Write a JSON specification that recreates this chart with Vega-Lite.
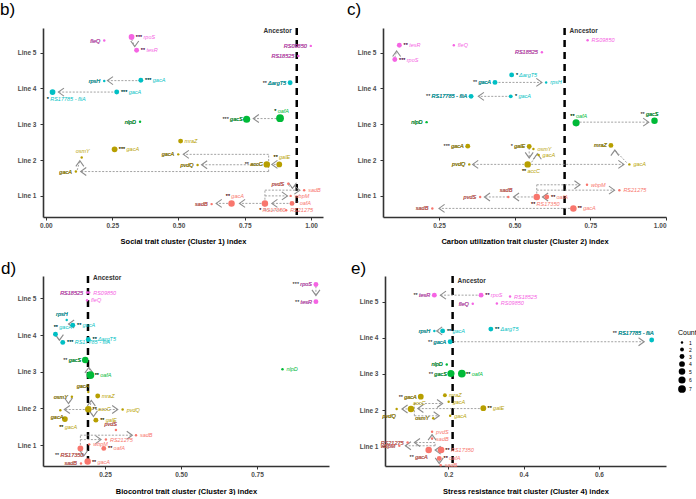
{
"$schema":"https://vega.github.io/schema/vega-lite/v6.json",
"background":"white",
"padding":{"left":0,"top":0,"right":0,"bottom":0},
"spacing":14,
"resolve":{"legend":{"size":"independent"}},
"config":{"font":"Liberation Sans","view":{"stroke":null},
"axis":{"grid":false,"domainColor":"#333333","domainWidth":1.6,"tickColor":"#333333","tickSize":3,"labelFontSize":6.5,"labelFontWeight":"bold","labelColor":"#4d4d4d","titleFontSize":7.5,"titleFontWeight":"bold","titleColor":"black","labelPadding":2},
"axisY":{"labelPadding":4},"axisX":{"titlePadding":9},
"title":{"fontSize":17,"fontWeight":"normal","anchor":"start","frame":"group","offset":8,"color":"black"},
"text":{"fontSize":5.5,"fontStyle":"italic","baseline":"middle"}},
"datasets":{
"anc":[{"p":"b","x":0.946,"y":5.62,"t":"Ancestor"},{"p":"c","x":0.665,"y":5.62,"t":"Ancestor"},{"p":"d","x":0.194,"y":5.55,"t":"Ancestor"},{"p":"e","x":0.2115,"y":5.58,"t":"Ancestor"}],
"arr":[
{"p":"b","x":0.323,"y":5.38,"x2":0.335,"y2":5.17,"dir":"down"},
{"p":"b","x":0.358,"y":4.22,"x2":0.232,"y2":4.22,"dir":"left"},
{"p":"b","x":0.267,"y":3.9,"x2":0.047,"y2":3.9,"dir":"left"},
{"p":"b","x":0.883,"y":3.16,"x2":0.782,"y2":3.16,"dir":"left"},
{"p":"b","x":0.88,"y":1.88,"x2":0.852,"y2":1.88,"dir":"left"},
{"p":"b","x":0.833,"y":1.87,"x2":0.587,"y2":1.87,"dir":"left"},
{"p":"b","x":0.84,"y":2.16,"x2":0.518,"y2":2.16,"dir":"left"},
{"p":"b","x":0.84,"y":1.68,"x2":0.131,"y2":1.68,"dir":"left"},
{"p":"b","x":0.84,"y":1.68,"x2":0.84,"y2":2.16,"dir":"none"},
{"p":"b","x":0.118,"y":1.72,"x2":0.128,"y2":1.98,"dir":"up"},
{"p":"b","x":0.928,"y":0.79,"x2":0.852,"y2":0.79,"dir":"left"},
{"p":"b","x":0.826,"y":0.79,"x2":0.73,"y2":0.79,"dir":"left"},
{"p":"b","x":0.7,"y":0.79,"x2":0.642,"y2":0.79,"dir":"left"},
{"p":"b","x":0.826,"y":1.16,"x2":0.958,"y2":1.16,"dir":"right"},
{"p":"b","x":0.826,"y":1.0,"x2":0.911,"y2":1.0,"dir":"right"},
{"p":"b","x":0.826,"y":0.6,"x2":0.895,"y2":0.6,"dir":"none"},
{"p":"b","x":0.826,"y":0.6,"x2":0.826,"y2":1.16,"dir":"none"},
{"p":"b","x":0.914,"y":1.3,"x2":0.93,"y2":1.21,"dir":"down"},
{"p":"c","x":0.104,"y":4.86,"x2":0.11,"y2":5.05,"dir":"up"},
{"p":"c","x":0.435,"y":4.17,"x2":0.59,"y2":4.17,"dir":"right"},
{"p":"c","x":0.487,"y":3.78,"x2":0.38,"y2":3.78,"dir":"left"},
{"p":"c","x":0.703,"y":3.06,"x2":0.943,"y2":3.06,"dir":"right"},
{"p":"c","x":0.543,"y":1.88,"x2":0.361,"y2":1.88,"dir":"left"},
{"p":"c","x":0.543,"y":1.88,"x2":0.861,"y2":1.88,"dir":"right"},
{"p":"c","x":0.87,"y":1.93,"x2":0.831,"y2":2.28,"dir":"up"},
{"p":"c","x":0.548,"y":2.34,"x2":0.548,"y2":2.06,"dir":"down"},
{"p":"c","x":0.556,"y":1.94,"x2":0.575,"y2":2.18,"dir":"up"},
{"p":"c","x":0.573,"y":1.31,"x2":0.716,"y2":1.31,"dir":"right"},
{"p":"c","x":0.573,"y":1.16,"x2":0.83,"y2":1.16,"dir":"right"},
{"p":"c","x":0.573,"y":0.97,"x2":0.573,"y2":1.31,"dir":"none"},
{"p":"c","x":0.606,"y":0.97,"x2":0.592,"y2":0.97,"dir":"left"},
{"p":"c","x":0.573,"y":0.97,"x2":0.496,"y2":0.97,"dir":"left"},
{"p":"c","x":0.479,"y":0.97,"x2":0.4,"y2":0.97,"dir":"left"},
{"p":"c","x":0.694,"y":0.65,"x2":0.25,"y2":0.65,"dir":"left"},
{"p":"d","x":0.944,"y":5.33,"x2":0.944,"y2":5.08,"dir":"down"},
{"p":"d","x":0.144,"y":4.27,"x2":0.13,"y2":4.3,"dir":"left"},
{"p":"d","x":0.087,"y":3.98,"x2":0.1,"y2":3.86,"dir":"down"},
{"p":"d","x":0.202,"y":2.95,"x2":0.197,"y2":3.12,"dir":"up"},
{"p":"d","x":0.195,"y":1.97,"x2":0.116,"y2":1.97,"dir":"left"},
{"p":"d","x":0.195,"y":1.97,"x2":0.292,"y2":1.97,"dir":"right"},
{"p":"d","x":0.2,"y":2.0,"x2":0.205,"y2":2.22,"dir":"up"},
{"p":"d","x":0.2,"y":1.95,"x2":0.212,"y2":1.78,"dir":"down"},
{"p":"d","x":0.141,"y":2.3,"x2":0.13,"y2":2.13,"dir":"down"},
{"p":"d","x":0.169,"y":1.15,"x2":0.237,"y2":1.15,"dir":"right"},
{"p":"d","x":0.169,"y":1.27,"x2":0.34,"y2":1.27,"dir":"right"},
{"p":"d","x":0.169,"y":0.91,"x2":0.169,"y2":1.27,"dir":"none"},
{"p":"d","x":0.172,"y":0.87,"x2":0.18,"y2":0.7,"dir":"down"},
{"p":"e","x":0.287,"y":5.18,"x2":0.179,"y2":5.18,"dir":"left"},
{"p":"e","x":0.185,"y":4.19,"x2":0.169,"y2":4.19,"dir":"left"},
{"p":"e","x":0.205,"y":3.89,"x2":0.72,"y2":3.89,"dir":"right"},
{"p":"e","x":0.293,"y":2.04,"x2":0.119,"y2":2.04,"dir":"left"},
{"p":"e","x":0.101,"y":2.03,"x2":0.077,"y2":2.03,"dir":"left"},
{"p":"e","x":0.11,"y":2.18,"x2":0.185,"y2":2.18,"dir":"right"},
{"p":"e","x":0.11,"y":1.84,"x2":0.176,"y2":1.84,"dir":"right"},
{"p":"e","x":0.11,"y":1.84,"x2":0.11,"y2":2.18,"dir":"none"},
{"p":"e","x":0.181,"y":0.89,"x2":0.165,"y2":0.89,"dir":"left"},
{"p":"e","x":0.165,"y":1.1,"x2":0.11,"y2":1.1,"dir":"left"},
{"p":"e","x":0.165,"y":1.01,"x2":0.086,"y2":1.01,"dir":"left"},
{"p":"e","x":0.165,"y":1.01,"x2":0.165,"y2":1.1,"dir":"none"},
{"p":"e","x":0.157,"y":1.17,"x2":0.157,"y2":1.32,"dir":"up"},
{"p":"e","x":0.176,"y":0.62,"x2":0.176,"y2":0.52,"dir":"down"}
],
"pts":[
{"p":"b","l":5,"g":"fleQ","s":"","lab":"fleQ","x":0.22,"y":5.34,"n":1,"sd":"l"},
{"p":"b","l":5,"g":"rpoS","s":"***","lab":"*** rpoS","x":0.323,"y":5.44,"n":4,"sd":"r"},
{"p":"b","l":5,"g":"tesR","s":"**","lab":"** tesR","x":0.342,"y":5.07,"n":3,"sd":"r"},
{"p":"b","l":5,"g":"RS09850","s":"","lab":"RS09850","x":0.999,"y":5.19,"n":1,"sd":"l"},
{"p":"b","l":5,"g":"RS18525","s":"","lab":"RS18525","x":0.952,"y":4.91,"n":1,"sd":"l"},
{"p":"b","l":4,"g":"rpsH","s":"","lab":"rpsH","x":0.22,"y":4.21,"n":1,"sd":"l"},
{"p":"b","l":4,"g":"gacA","s":"***","lab":"*** gacA","x":0.358,"y":4.23,"n":3,"sd":"r"},
{"p":"b","l":4,"g":"ΔargT5","s":"**","lab":"** ΔargT5","x":0.921,"y":4.16,"n":3,"sd":"l"},
{"p":"b","l":4,"g":"RS17785 - fliA","s":"*","lab":"* RS17785 - fliA","x":0.025,"y":3.9,"n":4,"sd":"b"},
{"p":"b","l":4,"g":"gacA","s":"***","lab":"*** gacA","x":0.267,"y":3.9,"n":3,"sd":"r"},
{"p":"b","l":3,"g":"nlpD","s":"","lab":"nlpD","x":0.355,"y":3.07,"n":1,"sd":"l"},
{"p":"b","l":3,"g":"gacS","s":"***","lab":"*** gacS","x":0.757,"y":3.14,"n":6,"sd":"l"},
{"p":"b","l":3,"g":"oafA","s":"*","lab":"* oafA","x":0.883,"y":3.17,"n":7,"sd":"a"},
{"p":"b","l":2,"g":"mraZ","s":"","lab":"mraZ","x":0.508,"y":2.53,"n":3,"sd":"r"},
{"p":"b","l":2,"g":"gacA","s":"***","lab":"*** gacA","x":0.259,"y":2.3,"n":4,"sd":"r"},
{"p":"b","l":2,"g":"gacA","s":"","lab":"gacA","x":0.499,"y":2.16,"n":1,"sd":"l"},
{"p":"b","l":2,"g":"galE","s":"**","lab":"** galE","x":0.88,"y":1.88,"n":4,"sd":"a"},
{"p":"b","l":2,"g":"accC","s":"**","lab":"** accC","x":0.833,"y":1.88,"n":5,"sd":"l"},
{"p":"b","l":2,"g":"pvdQ","s":"","lab":"pvdQ","x":0.572,"y":1.86,"n":1,"sd":"l"},
{"p":"b","l":2,"g":"osmY","s":"","lab":"osmY","x":0.135,"y":2.07,"n":1,"sd":"a"},
{"p":"b","l":2,"g":"gacA","s":"","lab":"gacA","x":0.113,"y":1.68,"n":1,"sd":"l"},
{"p":"b","l":1,"g":"pvdS","s":"","lab":"pvdS","x":0.914,"y":1.34,"n":1,"sd":"l"},
{"p":"b","l":1,"g":"sadB","s":"","lab":"sadB","x":0.974,"y":1.16,"n":1,"sd":"r"},
{"p":"b","l":1,"g":"wbpM","s":"","lab":"wbpM","x":0.923,"y":1.0,"n":1,"sd":"r"},
{"p":"b","l":1,"g":"oafA","s":"*","lab":"* oafA","x":0.928,"y":0.79,"n":3,"sd":"r"},
{"p":"b","l":1,"g":"RS17350","s":"*","lab":"* RS17350","x":0.826,"y":0.79,"n":5,"sd":"b"},
{"p":"b","l":1,"g":"RS21275","s":"","lab":"RS21275","x":0.906,"y":0.6,"n":1,"sd":"r"},
{"p":"b","l":1,"g":"gacA","s":"**","lab":"** gacA","x":0.7,"y":0.79,"n":5,"sd":"a"},
{"p":"b","l":1,"g":"sadB","s":"","lab":"sadB","x":0.625,"y":0.77,"n":1,"sd":"l"},
{"p":"c","l":5,"g":"tesR","s":"**","lab":"** tesR","x":0.119,"y":5.21,"n":3,"sd":"r"},
{"p":"c","l":5,"g":"rpoS","s":"***","lab":"*** rpoS","x":0.104,"y":4.81,"n":3,"sd":"r"},
{"p":"c","l":5,"g":"fleQ","s":"","lab":"fleQ","x":0.299,"y":5.21,"n":1,"sd":"r"},
{"p":"c","l":5,"g":"RS18525","s":"","lab":"RS18525","x":0.59,"y":5.01,"n":1,"sd":"l"},
{"p":"c","l":5,"g":"RS09850","s":"","lab":"RS09850","x":0.741,"y":5.35,"n":1,"sd":"r"},
{"p":"c","l":4,"g":"ΔargT5","s":"*","lab":"* ΔargT5","x":0.49,"y":4.38,"n":3,"sd":"r"},
{"p":"c","l":4,"g":"gacA","s":"**","lab":"** gacA","x":0.435,"y":4.17,"n":3,"sd":"l"},
{"p":"c","l":4,"g":"rpsH","s":"","lab":"rpsH","x":0.604,"y":4.17,"n":1,"sd":"r"},
{"p":"c","l":4,"g":"RS17785 - fliA","s":"**","lab":"** RS17785 - fliA","x":0.356,"y":3.78,"n":3,"sd":"l"},
{"p":"c","l":4,"g":"gacA","s":"*","lab":"* gacA","x":0.487,"y":3.78,"n":2,"sd":"r"},
{"p":"c","l":3,"g":"nlpD","s":"","lab":"nlpD","x":0.209,"y":3.06,"n":1,"sd":"l"},
{"p":"c","l":3,"g":"oafA","s":"**","lab":"** oafA","x":0.703,"y":3.04,"n":6,"sd":"a"},
{"p":"c","l":3,"g":"gacS","s":"**","lab":"** gacS","x":0.962,"y":3.1,"n":5,"sd":"al"},
{"p":"c","l":2,"g":"gacA","s":"***","lab":"*** gacA","x":0.345,"y":2.39,"n":3,"sd":"l"},
{"p":"c","l":2,"g":"galE","s":"*","lab":"* galE","x":0.548,"y":2.38,"n":3,"sd":"l"},
{"p":"c","l":2,"g":"osmY","s":"","lab":"osmY","x":0.562,"y":2.31,"n":1,"sd":"r"},
{"p":"c","l":2,"g":"gacA","s":"","lab":"gacA","x":0.579,"y":2.14,"n":1,"sd":"r"},
{"p":"c","l":2,"g":"accC","s":"**","lab":"** accC","x":0.543,"y":1.88,"n":5,"sd":"b"},
{"p":"c","l":2,"g":"pvdQ","s":"","lab":"pvdQ","x":0.35,"y":1.88,"n":1,"sd":"l"},
{"p":"c","l":2,"g":"gacA","s":"","lab":"gacA","x":0.879,"y":1.88,"n":1,"sd":"r"},
{"p":"c","l":2,"g":"mraZ","s":"","lab":"mraZ","x":0.818,"y":2.41,"n":3,"sd":"l"},
{"p":"c","l":1,"g":"wbpM","s":"","lab":"wbpM","x":0.739,"y":1.31,"n":1,"sd":"r"},
{"p":"c","l":1,"g":"RS21275","s":"","lab":"RS21275","x":0.846,"y":1.16,"n":1,"sd":"r"},
{"p":"c","l":1,"g":"oafA","s":"**","lab":"** oafA","x":0.606,"y":0.97,"n":3,"sd":"r"},
{"p":"c","l":1,"g":"RS17350","s":"**","lab":"** RS17350","x":0.573,"y":0.97,"n":5,"sd":"b"},
{"p":"c","l":1,"g":"sadB","s":"","lab":"sadB","x":0.479,"y":0.97,"n":1,"sd":"al"},
{"p":"c","l":1,"g":"pvdS","s":"","lab":"pvdS","x":0.386,"y":0.97,"n":1,"sd":"l"},
{"p":"c","l":1,"g":"gacA","s":"**","lab":"** gacA","x":0.694,"y":0.65,"n":5,"sd":"r"},
{"p":"c","l":1,"g":"sadB","s":"","lab":"sadB","x":0.228,"y":0.65,"n":1,"sd":"l"},
{"p":"d","l":5,"g":"rpoS","s":"***","lab":"*** rpoS","x":0.944,"y":5.38,"n":3,"sd":"l"},
{"p":"d","l":5,"g":"tesR","s":"**","lab":"** tesR","x":0.944,"y":4.91,"n":3,"sd":"l"},
{"p":"d","l":5,"g":"RS18525","s":"","lab":"RS18525","x":0.191,"y":5.16,"n":1,"sd":"l"},
{"p":"d","l":5,"g":"RS09850","s":"","lab":"RS09850","x":0.198,"y":5.16,"n":1,"sd":"r"},
{"p":"d","l":5,"g":"fleQ","s":"","lab":"fleQ","x":0.191,"y":4.95,"n":1,"sd":"r"},
{"p":"d","l":4,"g":"rpsH","s":"","lab":"rpsH","x":0.124,"y":4.41,"n":1,"sd":"al"},
{"p":"d","l":4,"g":"gacA","s":"**","lab":"** gacA","x":0.144,"y":4.27,"n":3,"sd":"r"},
{"p":"d","l":4,"g":"gacA","s":"**","lab":"** gacA","x":0.087,"y":4.02,"n":3,"sd":"a"},
{"p":"d","l":4,"g":"RS17785 - fliA","s":"***","lab":"*** RS17785 - fliA","x":0.111,"y":3.8,"n":3,"sd":"r"},
{"p":"d","l":4,"g":"ΔargT5","s":"**","lab":"** ΔargT5","x":0.195,"y":3.88,"n":3,"sd":"r"},
{"p":"d","l":3,"g":"gacS","s":"**","lab":"** gacS","x":0.185,"y":3.32,"n":5,"sd":"l"},
{"p":"d","l":3,"g":"oafA","s":"**","lab":"** oafA","x":0.202,"y":2.91,"n":7,"sd":"r"},
{"p":"d","l":3,"g":"nlpD","s":"","lab":"nlpD","x":0.834,"y":3.07,"n":1,"sd":"r"},
{"p":"d","l":2,"g":"gacA","s":"","lab":"gacA","x":0.195,"y":2.45,"n":1,"sd":"al"},
{"p":"d","l":2,"g":"mraZ","s":"","lab":"mraZ","x":0.226,"y":2.34,"n":3,"sd":"r"},
{"p":"d","l":2,"g":"osmY","s":"","lab":"osmY","x":0.141,"y":2.32,"n":1,"sd":"l"},
{"p":"d","l":2,"g":"accC","s":"**","lab":"** accC","x":0.195,"y":1.98,"n":5,"sd":"r"},
{"p":"d","l":2,"g":"gacA","s":"","lab":"gacA","x":0.103,"y":1.95,"n":1,"sd":"bl"},
{"p":"d","l":2,"g":"pvdQ","s":"","lab":"pvdQ","x":0.308,"y":1.97,"n":1,"sd":"r"},
{"p":"d","l":2,"g":"galE","s":"**","lab":"** galE","x":0.22,"y":1.68,"n":3,"sd":"r"},
{"p":"d","l":2,"g":"gacA","s":"**","lab":"** gacA","x":0.118,"y":1.71,"n":4,"sd":"b"},
{"p":"d","l":1,"g":"pvdS","s":"","lab":"pvdS","x":0.286,"y":1.41,"n":1,"sd":"al"},
{"p":"d","l":1,"g":"sadB","s":"","lab":"sadB","x":0.352,"y":1.27,"n":1,"sd":"r"},
{"p":"d","l":1,"g":"RS21275","s":"","lab":"RS21275","x":0.253,"y":1.15,"n":1,"sd":"r"},
{"p":"d","l":1,"g":"wbpM","s":"","lab":"wbpM","x":0.198,"y":1.02,"n":1,"sd":"r"},
{"p":"d","l":1,"g":"oafA","s":"**","lab":"** oafA","x":0.246,"y":0.91,"n":3,"sd":"r"},
{"p":"d","l":1,"g":"RS17350","s":"**","lab":"** RS17350","x":0.169,"y":0.91,"n":4,"sd":"bl"},
{"p":"d","l":1,"g":"gacA","s":"**","lab":"** gacA","x":0.193,"y":0.55,"n":5,"sd":"r"},
{"p":"d","l":1,"g":"sadB","s":"","lab":"sadB","x":0.171,"y":0.5,"n":1,"sd":"l"},
{"p":"e","l":5,"g":"tesR","s":"**","lab":"** tesR","x":0.163,"y":5.18,"n":3,"sd":"l"},
{"p":"e","l":5,"g":"rpoS","s":"**","lab":"** rpoS","x":0.287,"y":5.18,"n":3,"sd":"r"},
{"p":"e","l":5,"g":"RS18525","s":"","lab":"RS18525","x":0.364,"y":5.14,"n":1,"sd":"r"},
{"p":"e","l":5,"g":"fleQ","s":"","lab":"fleQ","x":0.265,"y":4.94,"n":1,"sd":"l"},
{"p":"e","l":5,"g":"RS09850","s":"","lab":"RS09850","x":0.329,"y":4.95,"n":1,"sd":"r"},
{"p":"e","l":4,"g":"rpsH","s":"","lab":"rpsH","x":0.163,"y":4.19,"n":1,"sd":"l"},
{"p":"e","l":4,"g":"gacA","s":"**","lab":"** gacA","x":0.185,"y":4.19,"n":3,"sd":"r"},
{"p":"e","l":4,"g":"ΔargT5","s":"**","lab":"** ΔargT5","x":0.313,"y":4.24,"n":3,"sd":"r"},
{"p":"e","l":4,"g":"gacA","s":"**","lab":"** gacA","x":0.205,"y":3.89,"n":3,"sd":"l"},
{"p":"e","l":4,"g":"RS17785 - fliA","s":"**","lab":"** RS17785 - fliA","x":0.74,"y":3.94,"n":3,"sd":"al"},
{"p":"e","l":3,"g":"nlpD","s":"","lab":"nlpD","x":0.196,"y":3.26,"n":1,"sd":"l"},
{"p":"e","l":3,"g":"gacS","s":"**","lab":"** gacS","x":0.207,"y":3.01,"n":6,"sd":"l"},
{"p":"e","l":3,"g":"oafA","s":"**","lab":"** oafA","x":0.236,"y":3.01,"n":7,"sd":"r"},
{"p":"e","l":2,"g":"gacA","s":"**","lab":"** gacA","x":0.127,"y":2.37,"n":4,"sd":"l"},
{"p":"e","l":2,"g":"mraZ","s":"","lab":"mraZ","x":0.191,"y":2.41,"n":2,"sd":"r"},
{"p":"e","l":2,"g":"gacA","s":"","lab":"gacA","x":0.201,"y":2.23,"n":1,"sd":"r"},
{"p":"e","l":2,"g":"accC","s":"","lab":"accC","x":0.101,"y":2.03,"n":5,"sd":"a"},
{"p":"e","l":2,"g":"galE","s":"**","lab":"** galE","x":0.293,"y":2.05,"n":4,"sd":"r"},
{"p":"e","l":2,"g":"pvdQ","s":"","lab":"pvdQ","x":0.063,"y":2.03,"n":1,"sd":"bl"},
{"p":"e","l":2,"g":"osmY","s":"","lab":"osmY","x":0.16,"y":1.77,"n":1,"sd":"l"},
{"p":"e","l":2,"g":"gacA","s":"","lab":"gacA","x":0.205,"y":1.84,"n":1,"sd":"r"},
{"p":"e","l":1,"g":"pvdS","s":"","lab":"pvdS","x":0.157,"y":1.4,"n":1,"sd":"r"},
{"p":"e","l":1,"g":"sadB","s":"","lab":"sadB","x":0.157,"y":1.21,"n":1,"sd":"r"},
{"p":"e","l":1,"g":"RS21275","s":"","lab":"RS21275","x":0.092,"y":1.1,"n":1,"sd":"l"},
{"p":"e","l":1,"g":"wbpM","s":"","lab":"wbpM","x":0.07,"y":1.01,"n":1,"sd":"l"},
{"p":"e","l":1,"g":"gacA","s":"**","lab":"** gacA","x":0.148,"y":0.89,"n":5,"sd":"bl"},
{"p":"e","l":1,"g":"RS17350","s":"**","lab":"** RS17350","x":0.181,"y":0.89,"n":5,"sd":"r"},
{"p":"e","l":1,"g":"oafA","s":"**","lab":"** oafA","x":0.176,"y":0.66,"n":3,"sd":"r"},
{"p":"e","l":1,"g":"sadB","s":"","lab":"sadB","x":0.18,"y":0.47,"n":1,"sd":"r"}
]},
"vconcat":[
{"resolve":{"legend":{"size":"independent"}},"hconcat":[
{"width":280,"height":189,"title":{"text":"b)","dx":-43},
"layer":[
{"data":{"name":"anc"},"transform":[{"filter":"datum.p=='b'"}],"mark":{"type":"rule","color":"black","strokeWidth":2.5,"strokeDash":[7,5]},"encoding":{"x":{"field":"x","type":"quantitative"}}},
{"data":{"name":"anc"},"transform":[{"filter":"datum.p=='b'"}],"mark":{"type":"text","align":"right","dx":-5,"fontStyle":"normal","fontWeight":"bold","fontSize":6.5,"color":"#333333"},"encoding":{"x":{"field":"x","type":"quantitative"},"y":{"field":"y","type":"quantitative"},"text":{"field":"t"}}},
{"data":{"name":"arr"},"transform":[{"filter":"datum.p=='b'"}],"mark":{"type":"rule","color":"#999999","strokeWidth":0.9,"strokeDash":[2,1.5]},"encoding":{"x":{"field":"x","type":"quantitative"},"y":{"field":"y","type":"quantitative"},"x2":{"field":"x2"},"y2":{"field":"y2"}}},
{"data":{"name":"arr"},"transform":[{"filter":"datum.p=='b'&&datum.dir!='none'"}],"mark":{"type":"point","filled":false,"color":"#8c8c8c","strokeWidth":1.1,"size":64,"opacity":1},"encoding":{"x":{"field":"x2","type":"quantitative"},"y":{"field":"y2","type":"quantitative"},"shape":{"field":"dir","type":"nominal","scale":{"domain":["left","right","up","down"],"range":["M1.4,-1L0,0L1.4,1","M-1.4,-1L0,0L-1.4,1","M-1,1.4L0,0L1,1.4","M-1,-1.4L0,0L1,-1.4"]},"legend":null}}},
{"data":{"name":"pts"},"transform":[{"filter":"datum.p=='b'"}],"mark":{"type":"circle","opacity":1},"encoding":{"x":{"field":"x","type":"quantitative","scale":{"domain":[-0.011,1.045],"nice":false,"zero":false},"axis":{"values":[0,0.25,0.5,0.75,1],"format":".2f"},"title":"Social trait cluster (Cluster 1) index"},"y":{"field":"y","type":"quantitative","scale":{"domain":[0.41,5.69],"nice":false,"zero":false},"axis":{"values":[1,2,3,4,5],"labelExpr":"'Line ' + datum.value"},"title":null},"color":{"field":"l","type":"nominal","scale":{"domain":[1,2,3,4,5],"range":["#F8766D","#B79F00","#00BA38","#00BFC4","#F564E3"]},"legend":null},"size":{"field":"n","type":"quantitative","scale":{"domain":[1,7],"range":[6,60]},"legend":null}}},
{"data":{"name":"pts"},"transform":[{"filter":"datum.p=='b'&&datum.sd=='r'"}],"mark":{"type":"text","align":"left","dx":4},"encoding":{"x":{"field":"x","type":"quantitative"},"y":{"field":"y","type":"quantitative"},"text":{"field":"lab"},"color":{"field":"l","type":"nominal","legend":null}}},
{"data":{"name":"pts"},"transform":[{"filter":"datum.p=='b'&&datum.sd=='r'"}],"mark":{"type":"text","align":"left","dx":4,"color":"black"},"encoding":{"x":{"field":"x","type":"quantitative"},"y":{"field":"y","type":"quantitative"},"text":{"field":"s"}}},
{"data":{"name":"pts"},"transform":[{"filter":"datum.p=='b'&&datum.sd=='l'"}],"mark":{"type":"text","align":"right","dx":-4,"color":"black"},"encoding":{"x":{"field":"x","type":"quantitative"},"y":{"field":"y","type":"quantitative"},"text":{"field":"lab"}}},
{"data":{"name":"pts"},"transform":[{"filter":"datum.p=='b'&&datum.sd=='l'"}],"mark":{"type":"text","align":"right","dx":-4},"encoding":{"x":{"field":"x","type":"quantitative"},"y":{"field":"y","type":"quantitative"},"text":{"field":"g"},"color":{"field":"l","type":"nominal","legend":null}}},
{"data":{"name":"pts"},"transform":[{"filter":"datum.p=='b'&&datum.sd=='a'"}],"mark":{"type":"text","align":"left","dx":-6,"dy":-7},"encoding":{"x":{"field":"x","type":"quantitative"},"y":{"field":"y","type":"quantitative"},"text":{"field":"lab"},"color":{"field":"l","type":"nominal","legend":null}}},
{"data":{"name":"pts"},"transform":[{"filter":"datum.p=='b'&&datum.sd=='a'"}],"mark":{"type":"text","align":"left","dx":-6,"dy":-7,"color":"black"},"encoding":{"x":{"field":"x","type":"quantitative"},"y":{"field":"y","type":"quantitative"},"text":{"field":"s"}}},
{"data":{"name":"pts"},"transform":[{"filter":"datum.p=='b'&&datum.sd=='b'"}],"mark":{"type":"text","align":"left","dx":-6,"dy":7},"encoding":{"x":{"field":"x","type":"quantitative"},"y":{"field":"y","type":"quantitative"},"text":{"field":"lab"},"color":{"field":"l","type":"nominal","legend":null}}},
{"data":{"name":"pts"},"transform":[{"filter":"datum.p=='b'&&datum.sd=='b'"}],"mark":{"type":"text","align":"left","dx":-6,"dy":7,"color":"black"},"encoding":{"x":{"field":"x","type":"quantitative"},"y":{"field":"y","type":"quantitative"},"text":{"field":"s"}}}
]},
{"width":283,"height":189,"title":{"text":"c)","dx":-36},
"layer":[
{"data":{"name":"anc"},"transform":[{"filter":"datum.p=='c'"}],"mark":{"type":"rule","color":"black","strokeWidth":2.5,"strokeDash":[7,5]},"encoding":{"x":{"field":"x","type":"quantitative"}}},
{"data":{"name":"anc"},"transform":[{"filter":"datum.p=='c'"}],"mark":{"type":"text","align":"left","dx":5,"fontStyle":"normal","fontWeight":"bold","fontSize":6.5,"color":"#333333"},"encoding":{"x":{"field":"x","type":"quantitative"},"y":{"field":"y","type":"quantitative"},"text":{"field":"t"}}},
{"data":{"name":"arr"},"transform":[{"filter":"datum.p=='c'"}],"mark":{"type":"rule","color":"#999999","strokeWidth":0.9,"strokeDash":[2,1.5]},"encoding":{"x":{"field":"x","type":"quantitative"},"y":{"field":"y","type":"quantitative"},"x2":{"field":"x2"},"y2":{"field":"y2"}}},
{"data":{"name":"arr"},"transform":[{"filter":"datum.p=='c'&&datum.dir!='none'"}],"mark":{"type":"point","filled":false,"color":"#8c8c8c","strokeWidth":1.1,"size":64,"opacity":1},"encoding":{"x":{"field":"x2","type":"quantitative"},"y":{"field":"y2","type":"quantitative"},"shape":{"field":"dir","type":"nominal","legend":null}}},
{"data":{"name":"pts"},"transform":[{"filter":"datum.p=='c'"}],"mark":{"type":"circle","opacity":1},"encoding":{"x":{"field":"x","type":"quantitative","scale":{"domain":[0.065,1.0],"nice":false,"zero":false},"axis":{"values":[0.25,0.5,0.75,1],"format":".2f"},"title":"Carbon utilization trait cluster (Cluster 2) index"},"y":{"field":"y","type":"quantitative","scale":{"domain":[0.41,5.69],"nice":false,"zero":false},"axis":{"values":[1,2,3,4,5],"labelExpr":"'Line ' + datum.value"},"title":null},"color":{"field":"l","type":"nominal","legend":null},"size":{"field":"n","type":"quantitative","legend":null}}},
{"data":{"name":"pts"},"transform":[{"filter":"datum.p=='c'&&datum.sd=='r'"}],"mark":{"type":"text","align":"left","dx":4},"encoding":{"x":{"field":"x","type":"quantitative"},"y":{"field":"y","type":"quantitative"},"text":{"field":"lab"},"color":{"field":"l","type":"nominal","legend":null}}},
{"data":{"name":"pts"},"transform":[{"filter":"datum.p=='c'&&datum.sd=='r'"}],"mark":{"type":"text","align":"left","dx":4,"color":"black"},"encoding":{"x":{"field":"x","type":"quantitative"},"y":{"field":"y","type":"quantitative"},"text":{"field":"s"}}},
{"data":{"name":"pts"},"transform":[{"filter":"datum.p=='c'&&datum.sd=='l'"}],"mark":{"type":"text","align":"right","dx":-4,"color":"black"},"encoding":{"x":{"field":"x","type":"quantitative"},"y":{"field":"y","type":"quantitative"},"text":{"field":"lab"}}},
{"data":{"name":"pts"},"transform":[{"filter":"datum.p=='c'&&datum.sd=='l'"}],"mark":{"type":"text","align":"right","dx":-4},"encoding":{"x":{"field":"x","type":"quantitative"},"y":{"field":"y","type":"quantitative"},"text":{"field":"g"},"color":{"field":"l","type":"nominal","legend":null}}},
{"data":{"name":"pts"},"transform":[{"filter":"datum.p=='c'&&datum.sd=='a'"}],"mark":{"type":"text","align":"left","dx":-6,"dy":-7},"encoding":{"x":{"field":"x","type":"quantitative"},"y":{"field":"y","type":"quantitative"},"text":{"field":"lab"},"color":{"field":"l","type":"nominal","legend":null}}},
{"data":{"name":"pts"},"transform":[{"filter":"datum.p=='c'&&datum.sd=='a'"}],"mark":{"type":"text","align":"left","dx":-6,"dy":-7,"color":"black"},"encoding":{"x":{"field":"x","type":"quantitative"},"y":{"field":"y","type":"quantitative"},"text":{"field":"s"}}},
{"data":{"name":"pts"},"transform":[{"filter":"datum.p=='c'&&datum.sd=='al'"}],"mark":{"type":"text","align":"right","dx":4,"dy":-7,"color":"black"},"encoding":{"x":{"field":"x","type":"quantitative"},"y":{"field":"y","type":"quantitative"},"text":{"field":"lab"}}},
{"data":{"name":"pts"},"transform":[{"filter":"datum.p=='c'&&datum.sd=='al'"}],"mark":{"type":"text","align":"right","dx":4,"dy":-7},"encoding":{"x":{"field":"x","type":"quantitative"},"y":{"field":"y","type":"quantitative"},"text":{"field":"g"},"color":{"field":"l","type":"nominal","legend":null}}},
{"data":{"name":"pts"},"transform":[{"filter":"datum.p=='c'&&datum.sd=='b'"}],"mark":{"type":"text","align":"left","dx":-6,"dy":7},"encoding":{"x":{"field":"x","type":"quantitative"},"y":{"field":"y","type":"quantitative"},"text":{"field":"lab"},"color":{"field":"l","type":"nominal","legend":null}}},
{"data":{"name":"pts"},"transform":[{"filter":"datum.p=='c'&&datum.sd=='b'"}],"mark":{"type":"text","align":"left","dx":-6,"dy":7,"color":"black"},"encoding":{"x":{"field":"x","type":"quantitative"},"y":{"field":"y","type":"quantitative"},"text":{"field":"s"}}}
]}
],"spacing":24},
{"resolve":{"legend":{"size":"independent"}},"hconcat":[
{"width":286,"height":190,"title":{"text":"d)","dx":-42,"offset":-3},
"layer":[
{"data":{"name":"anc"},"transform":[{"filter":"datum.p=='d'"}],"mark":{"type":"rule","color":"black","strokeWidth":2.5,"strokeDash":[7,5]},"encoding":{"x":{"field":"x","type":"quantitative"}}},
{"data":{"name":"anc"},"transform":[{"filter":"datum.p=='d'"}],"mark":{"type":"text","align":"left","dx":5,"fontStyle":"normal","fontWeight":"bold","fontSize":6.5,"color":"#333333"},"encoding":{"x":{"field":"x","type":"quantitative"},"y":{"field":"y","type":"quantitative"},"text":{"field":"t"}}},
{"data":{"name":"arr"},"transform":[{"filter":"datum.p=='d'"}],"mark":{"type":"rule","color":"#999999","strokeWidth":0.9,"strokeDash":[2,1.5]},"encoding":{"x":{"field":"x","type":"quantitative"},"y":{"field":"y","type":"quantitative"},"x2":{"field":"x2"},"y2":{"field":"y2"}}},
{"data":{"name":"arr"},"transform":[{"filter":"datum.p=='d'&&datum.dir!='none'"}],"mark":{"type":"point","filled":false,"color":"#8c8c8c","strokeWidth":1.1,"size":64,"opacity":1},"encoding":{"x":{"field":"x2","type":"quantitative"},"y":{"field":"y2","type":"quantitative"},"shape":{"field":"dir","type":"nominal","legend":null}}},
{"data":{"name":"pts"},"transform":[{"filter":"datum.p=='d'"}],"mark":{"type":"circle","opacity":1},"encoding":{"x":{"field":"x","type":"quantitative","scale":{"domain":[0.046,0.987],"nice":false,"zero":false},"axis":{"values":[0.25,0.5,0.75],"format":".2f","titlePadding":10},"title":"Biocontrol trait cluster (Cluster 3) index"},"y":{"field":"y","type":"quantitative","scale":{"domain":[0.43,5.61],"nice":false,"zero":false},"axis":{"values":[1,2,3,4,5],"labelExpr":"'Line ' + datum.value"},"title":null},"color":{"field":"l","type":"nominal","legend":null},"size":{"field":"n","type":"quantitative","legend":null}}},
{"data":{"name":"pts"},"transform":[{"filter":"datum.p=='d'&&datum.sd=='r'"}],"mark":{"type":"text","align":"left","dx":4},"encoding":{"x":{"field":"x","type":"quantitative"},"y":{"field":"y","type":"quantitative"},"text":{"field":"lab"},"color":{"field":"l","type":"nominal","legend":null}}},
{"data":{"name":"pts"},"transform":[{"filter":"datum.p=='d'&&datum.sd=='r'"}],"mark":{"type":"text","align":"left","dx":4,"color":"black"},"encoding":{"x":{"field":"x","type":"quantitative"},"y":{"field":"y","type":"quantitative"},"text":{"field":"s"}}},
{"data":{"name":"pts"},"transform":[{"filter":"datum.p=='d'&&datum.sd=='l'"}],"mark":{"type":"text","align":"right","dx":-4,"color":"black"},"encoding":{"x":{"field":"x","type":"quantitative"},"y":{"field":"y","type":"quantitative"},"text":{"field":"lab"}}},
{"data":{"name":"pts"},"transform":[{"filter":"datum.p=='d'&&datum.sd=='l'"}],"mark":{"type":"text","align":"right","dx":-4},"encoding":{"x":{"field":"x","type":"quantitative"},"y":{"field":"y","type":"quantitative"},"text":{"field":"g"},"color":{"field":"l","type":"nominal","legend":null}}},
{"data":{"name":"pts"},"transform":[{"filter":"datum.p=='d'&&datum.sd=='a'"}],"mark":{"type":"text","align":"left","dx":-2,"dy":-7},"encoding":{"x":{"field":"x","type":"quantitative"},"y":{"field":"y","type":"quantitative"},"text":{"field":"lab"},"color":{"field":"l","type":"nominal","legend":null}}},
{"data":{"name":"pts"},"transform":[{"filter":"datum.p=='d'&&datum.sd=='a'"}],"mark":{"type":"text","align":"left","dx":-2,"dy":-7,"color":"black"},"encoding":{"x":{"field":"x","type":"quantitative"},"y":{"field":"y","type":"quantitative"},"text":{"field":"s"}}},
{"data":{"name":"pts"},"transform":[{"filter":"datum.p=='d'&&datum.sd=='al'"}],"mark":{"type":"text","align":"right","dx":1,"dy":-6,"color":"black"},"encoding":{"x":{"field":"x","type":"quantitative"},"y":{"field":"y","type":"quantitative"},"text":{"field":"lab"}}},
{"data":{"name":"pts"},"transform":[{"filter":"datum.p=='d'&&datum.sd=='al'"}],"mark":{"type":"text","align":"right","dx":1,"dy":-6},"encoding":{"x":{"field":"x","type":"quantitative"},"y":{"field":"y","type":"quantitative"},"text":{"field":"g"},"color":{"field":"l","type":"nominal","legend":null}}},
{"data":{"name":"pts"},"transform":[{"filter":"datum.p=='d'&&datum.sd=='b'"}],"mark":{"type":"text","align":"left","dx":-6,"dy":8},"encoding":{"x":{"field":"x","type":"quantitative"},"y":{"field":"y","type":"quantitative"},"text":{"field":"lab"},"color":{"field":"l","type":"nominal","legend":null}}},
{"data":{"name":"pts"},"transform":[{"filter":"datum.p=='d'&&datum.sd=='b'"}],"mark":{"type":"text","align":"left","dx":-6,"dy":8,"color":"black"},"encoding":{"x":{"field":"x","type":"quantitative"},"y":{"field":"y","type":"quantitative"},"text":{"field":"s"}}},
{"data":{"name":"pts"},"transform":[{"filter":"datum.p=='d'&&datum.sd=='bl'"}],"mark":{"type":"text","align":"right","dx":3,"dy":7,"color":"black"},"encoding":{"x":{"field":"x","type":"quantitative"},"y":{"field":"y","type":"quantitative"},"text":{"field":"lab"}}},
{"data":{"name":"pts"},"transform":[{"filter":"datum.p=='d'&&datum.sd=='bl'"}],"mark":{"type":"text","align":"right","dx":3,"dy":7},"encoding":{"x":{"field":"x","type":"quantitative"},"y":{"field":"y","type":"quantitative"},"text":{"field":"g"},"color":{"field":"l","type":"nominal","legend":null}}}
]},
{"width":281,"height":190,"title":{"text":"e)","dx":-34,"offset":-3},
"layer":[
{"data":{"name":"anc"},"transform":[{"filter":"datum.p=='e'"}],"mark":{"type":"rule","color":"black","strokeWidth":2.5,"strokeDash":[7,5]},"encoding":{"x":{"field":"x","type":"quantitative"}}},
{"data":{"name":"anc"},"transform":[{"filter":"datum.p=='e'"}],"mark":{"type":"text","align":"left","dx":5,"fontStyle":"normal","fontWeight":"bold","fontSize":6.5,"color":"#333333"},"encoding":{"x":{"field":"x","type":"quantitative"},"y":{"field":"y","type":"quantitative"},"text":{"field":"t"}}},
{"data":{"name":"arr"},"transform":[{"filter":"datum.p=='e'"}],"mark":{"type":"rule","color":"#999999","strokeWidth":0.9,"strokeDash":[2,1.5]},"encoding":{"x":{"field":"x","type":"quantitative"},"y":{"field":"y","type":"quantitative"},"x2":{"field":"x2"},"y2":{"field":"y2"}}},
{"data":{"name":"arr"},"transform":[{"filter":"datum.p=='e'&&datum.dir!='none'"}],"mark":{"type":"point","filled":false,"color":"#8c8c8c","strokeWidth":1.1,"size":64,"opacity":1},"encoding":{"x":{"field":"x2","type":"quantitative"},"y":{"field":"y2","type":"quantitative"},"shape":{"field":"dir","type":"nominal","legend":null}}},
{"data":{"name":"pts"},"transform":[{"filter":"datum.p=='e'"}],"mark":{"type":"circle","opacity":1},"encoding":{"x":{"field":"x","type":"quantitative","scale":{"domain":[0.032,0.778],"nice":false,"zero":false},"axis":{"values":[0.2,0.4,0.6],"format":".1f","titlePadding":10},"title":"Stress resistance trait cluster (Cluster 4) index"},"y":{"field":"y","type":"quantitative","scale":{"domain":[0.45,5.71],"nice":false,"zero":false},"axis":{"values":[1,2,3,4,5],"labelExpr":"'Line ' + datum.value"},"title":null},"color":{"field":"l","type":"nominal","legend":null},"size":{"field":"n","type":"quantitative","legend":{"title":"Count","orient":"none","legendX":293,"legendY":53,"values":[1,2,3,4,5,6,7],"symbolType":"circle","symbolFillColor":"black","symbolStrokeWidth":0,"labelFontSize":5,"labelFont":"Liberation Sans","titleFontSize":7,"titleFontWeight":"normal","titlePadding":4,"rowPadding":1,"labelOffset":3}}}},
{"data":{"name":"pts"},"transform":[{"filter":"datum.p=='e'&&datum.sd=='r'"}],"mark":{"type":"text","align":"left","dx":4},"encoding":{"x":{"field":"x","type":"quantitative"},"y":{"field":"y","type":"quantitative"},"text":{"field":"lab"},"color":{"field":"l","type":"nominal","legend":null}}},
{"data":{"name":"pts"},"transform":[{"filter":"datum.p=='e'&&datum.sd=='r'"}],"mark":{"type":"text","align":"left","dx":4,"color":"black"},"encoding":{"x":{"field":"x","type":"quantitative"},"y":{"field":"y","type":"quantitative"},"text":{"field":"s"}}},
{"data":{"name":"pts"},"transform":[{"filter":"datum.p=='e'&&datum.sd=='l'"}],"mark":{"type":"text","align":"right","dx":-4,"color":"black"},"encoding":{"x":{"field":"x","type":"quantitative"},"y":{"field":"y","type":"quantitative"},"text":{"field":"lab"}}},
{"data":{"name":"pts"},"transform":[{"filter":"datum.p=='e'&&datum.sd=='l'"}],"mark":{"type":"text","align":"right","dx":-4},"encoding":{"x":{"field":"x","type":"quantitative"},"y":{"field":"y","type":"quantitative"},"text":{"field":"g"},"color":{"field":"l","type":"nominal","legend":null}}},
{"data":{"name":"pts"},"transform":[{"filter":"datum.p=='e'&&datum.sd=='a'"}],"mark":{"type":"text","align":"left","dx":2,"dy":-6},"encoding":{"x":{"field":"x","type":"quantitative"},"y":{"field":"y","type":"quantitative"},"text":{"field":"lab"},"color":{"field":"l","type":"nominal","legend":null}}},
{"data":{"name":"pts"},"transform":[{"filter":"datum.p=='e'&&datum.sd=='al'"}],"mark":{"type":"text","align":"right","dx":2,"dy":-7,"color":"black"},"encoding":{"x":{"field":"x","type":"quantitative"},"y":{"field":"y","type":"quantitative"},"text":{"field":"lab"}}},
{"data":{"name":"pts"},"transform":[{"filter":"datum.p=='e'&&datum.sd=='al'"}],"mark":{"type":"text","align":"right","dx":2,"dy":-7},"encoding":{"x":{"field":"x","type":"quantitative"},"y":{"field":"y","type":"quantitative"},"text":{"field":"g"},"color":{"field":"l","type":"nominal","legend":null}}},
{"data":{"name":"pts"},"transform":[{"filter":"datum.p=='e'&&datum.sd=='bl'"}],"mark":{"type":"text","align":"right","dx":-1,"dy":7,"color":"black"},"encoding":{"x":{"field":"x","type":"quantitative"},"y":{"field":"y","type":"quantitative"},"text":{"field":"lab"}}},
{"data":{"name":"pts"},"transform":[{"filter":"datum.p=='e'&&datum.sd=='bl'"}],"mark":{"type":"text","align":"right","dx":-1,"dy":7},"encoding":{"x":{"field":"x","type":"quantitative"},"y":{"field":"y","type":"quantitative"},"text":{"field":"g"},"color":{"field":"l","type":"nominal","legend":null}}}
]}
],"spacing":22}
]
}
